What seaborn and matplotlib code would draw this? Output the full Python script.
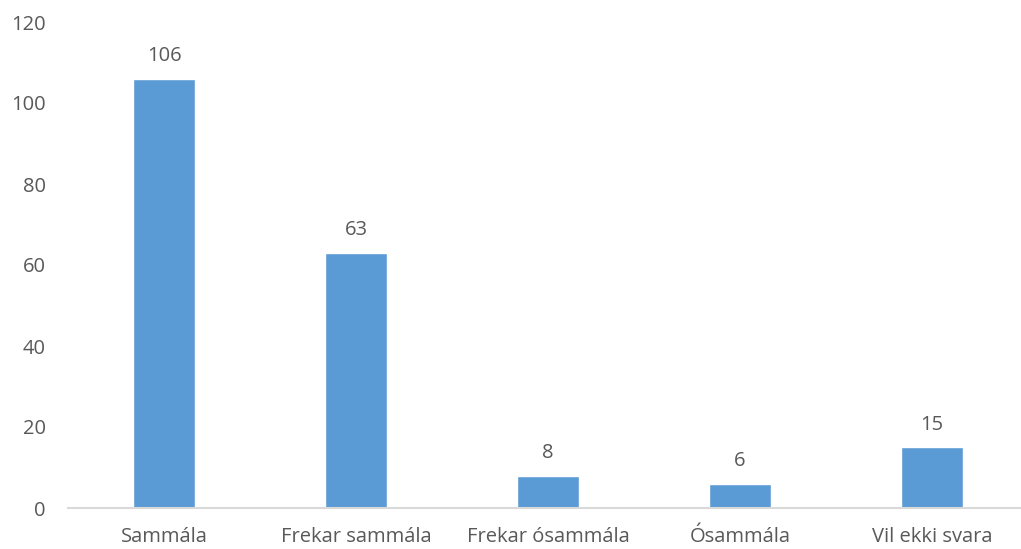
import matplotlib
matplotlib.use("Agg")
import matplotlib.pyplot as plt
import seaborn as sns
import pandas as pd

# svör
flokkar = ["Sammála", "Frekar sammála", "Frekar ósammála", "Ósammála", "Vil ekki svara"]
fjoldi = [106, 63, 8, 6, 15]

df = pd.DataFrame({"flokkur": flokkar, "fjoldi": fjoldi})

sns.set_style("white")
plt.rcParams["font.family"] = ["Open Sans", "DejaVu Sans"]
textalitur = "#595959"

fig = plt.figure(figsize=(10.21, 5.49), dpi=100)
ax = fig.add_axes([68 / 1021, 41 / 549, 960 / 1021, 486 / 549])

sns.barplot(data=df, x="flokkur", y="fjoldi", color="#5B9BD5", saturation=1,
            width=0.32, ax=ax)

ax.bar_label(ax.containers[0], padding=9, fontsize=14.5, color=textalitur)

ax.set_ylim(0, 120)
ax.set_xlim(-0.5, 4.5)
ax.set_yticks(range(0, 121, 20))
ax.set_xlabel("")
ax.set_ylabel("")
ax.tick_params(axis="both", length=0, labelsize=14.5, colors=textalitur)
ax.tick_params(axis="y", pad=16)
ax.tick_params(axis="x", pad=14)

for s in ["top", "right", "left"]:
    ax.spines[s].set_visible(False)
ax.spines["bottom"].set_color("#D9D9D9")
ax.spines["bottom"].set_linewidth(1.5)

fig.savefig("out.png", dpi=100)
